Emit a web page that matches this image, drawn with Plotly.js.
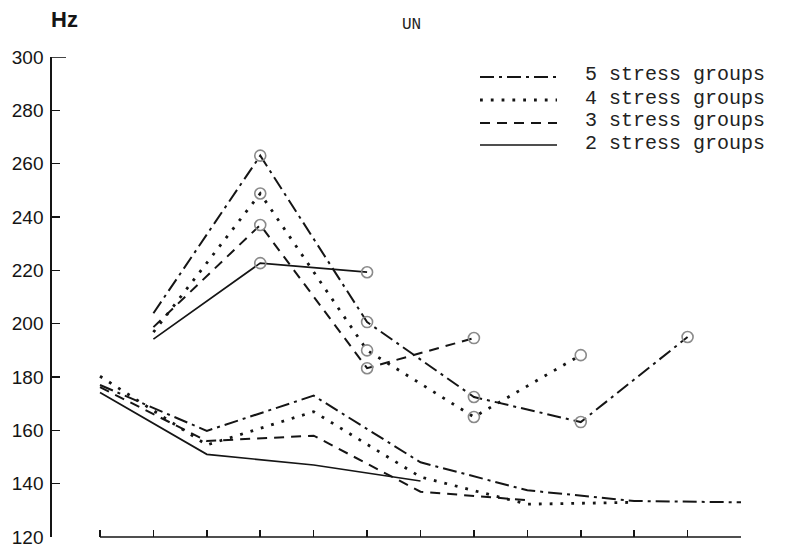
<!DOCTYPE html>
<html><head><meta charset="utf-8">
<script src="https://cdn.plot.ly/plotly-3.0.1.min.js"></script>
<style>html,body{margin:0;padding:0;background:#fff}#chart{width:790px;height:550px}</style>
</head><body><div id="chart"></div>
<script>
// ---- data ----
const tickPositions = [0,1,2,3,4,5,6,7,8,9,10,11,12];
const lowerX = [0,2,4,6,8,10,12];
const upperX = [1,3,5,7,9,11];
const yTicks = [120,140,160,180,200,220,240,260,280,300];
const seriesNames = ['5 stress groups','4 stress groups','3 stress groups','2 stress groups'];
const lower5 = [177, 159.8, 173, 148, 137.5, 133.5, 133];
const lower4 = [180.3, 154.5, 167, 142.5, 132.3, 133];
const lower3 = [176.2, 156, 158, 137, 133.8];
const lower2 = [174.2, 151, 147, 141];
const upper5 = [203.9, 263, 200.6, 172.5, 163.1, 195];
const upper4 = [196.8, 248.8, 190, 165, 188.2];
const upper3 = [198.7, 237, 183.3, 194.6];
const upper2 = [194.2, 222.7, 219.3];
const titleText = 'UN';
const unitText = 'Hz';

// ---- styles ----
const ink = '#151515';
const styles = [
  {dash:'14px,5px,3px,5px', width:2},
  {dash:'2.8px,8px', width:2.8},
  {dash:'10px,7px', width:2},
  {dash:'solid', width:1.7}
];
const lowers = [lower5, lower4, lower3, lower2];
const uppers = [upper5, upper4, upper3, upper2];

const W = 790, H = 550, M = {l:52, r:49, t:57, b:13};
const px = x => (x - M.l) / (W - M.l - M.r);
const py = y => (H - M.b - y) / (H - M.t - M.b);
// x range chosen so that tick 0 sits 48px right of the y axis line
const xStart = -48 / ((741 - 100) / 12);

const traces = [];
seriesNames.forEach((name, i) => {
  const st = styles[i];
  const line = {color: ink, width: st.width, dash: st.dash};
  traces.push({type:'scatter', mode:'lines', name, showlegend:false,
    x: lowerX.slice(0, lowers[i].length), y: lowers[i], line, hoverinfo:'skip'});
  traces.push({type:'scatter', mode:'lines', name, showlegend:false,
    x: upperX.slice(0, uppers[i].length), y: uppers[i], line, hoverinfo:'skip'});
  traces.push({type:'scatter', mode:'markers', name, showlegend:false,
    x: upperX.slice(1, uppers[i].length), y: uppers[i].slice(1),
    marker:{symbol:'circle-open', size:11, color:'#8a8a8a', line:{width:1.6, color:'#8a8a8a'}},
    hoverinfo:'skip'});
});

const legendRows = [77, 100, 123, 145];
const shapes = seriesNames.map((n, i) => ({
  type:'line', xref:'paper', yref:'paper',
  x0: px(480), x1: px(557), y0: py(legendRows[i]), y1: py(legendRows[i]),
  line:{color: ink, width: styles[i].width, dash: styles[i].dash}
}));
// x axis baseline (starts at the first tick, detached from the y axis)
shapes.push({type:'line', xref:'x', yref:'paper', x0: tickPositions[0], x1: tickPositions[tickPositions.length-1],
  y0: 0, y1: 0, line:{color: ink, width:1.7}});
// longer cap tick at the top of the y axis
shapes.push({type:'line', xref:'paper', yref:'y', x0: 0, x1: px(66), y0: yTicks[yTicks.length-1], y1: yTicks[yTicks.length-1],
  line:{color: ink, width:1.6}});

const annotations = seriesNames.map((n, i) => ({
  xref:'paper', yref:'paper', x: px(583), y: py(legendRows[i] - 2),
  xanchor:'left', yanchor:'middle', showarrow:false, text: n,
  font:{family:'Liberation Mono, DejaVu Sans Mono, monospace', size:20, color:'#222'}
}));
annotations.push({xref:'paper', yref:'paper', x: px(411), y: py(25), xanchor:'center', yanchor:'middle',
  showarrow:false, text: titleText, font:{family:'Liberation Mono, monospace', size:16, color:'#222'}});
annotations.push({xref:'paper', yref:'paper', x: px(49), y: py(20), xanchor:'left', yanchor:'middle',
  showarrow:false, text: '<b>' + unitText + '</b>', font:{family:'Liberation Sans, Arial, sans-serif', size:22, color:ink}});

const layout = {
  width: W, height: H,
  margin: M,
  paper_bgcolor:'#fff', plot_bgcolor:'#fff',
  showlegend:false,
  xaxis: {range:[xStart, 12], showline:false,
    ticks:'inside', ticklen:7, tickwidth:1.6, tickcolor:ink, tickvals: tickPositions,
    showticklabels:false, showgrid:false, zeroline:false, fixedrange:true},
  yaxis: {range:[120,300], tickvals: yTicks, showline:true, mirror:false,
    linecolor:ink, linewidth:1.7, ticks:'inside', ticklen:8, tickwidth:1.6, tickcolor:ink,
    showgrid:false, zeroline:false, ticklabelstandoff:3,
    tickfont:{family:'Liberation Sans, Arial, sans-serif', size:19, color:ink}, fixedrange:true},
  shapes, annotations
};

Plotly.newPlot('chart', traces, layout, {staticPlot:true, displayModeBar:false});
</script>
</body></html>
